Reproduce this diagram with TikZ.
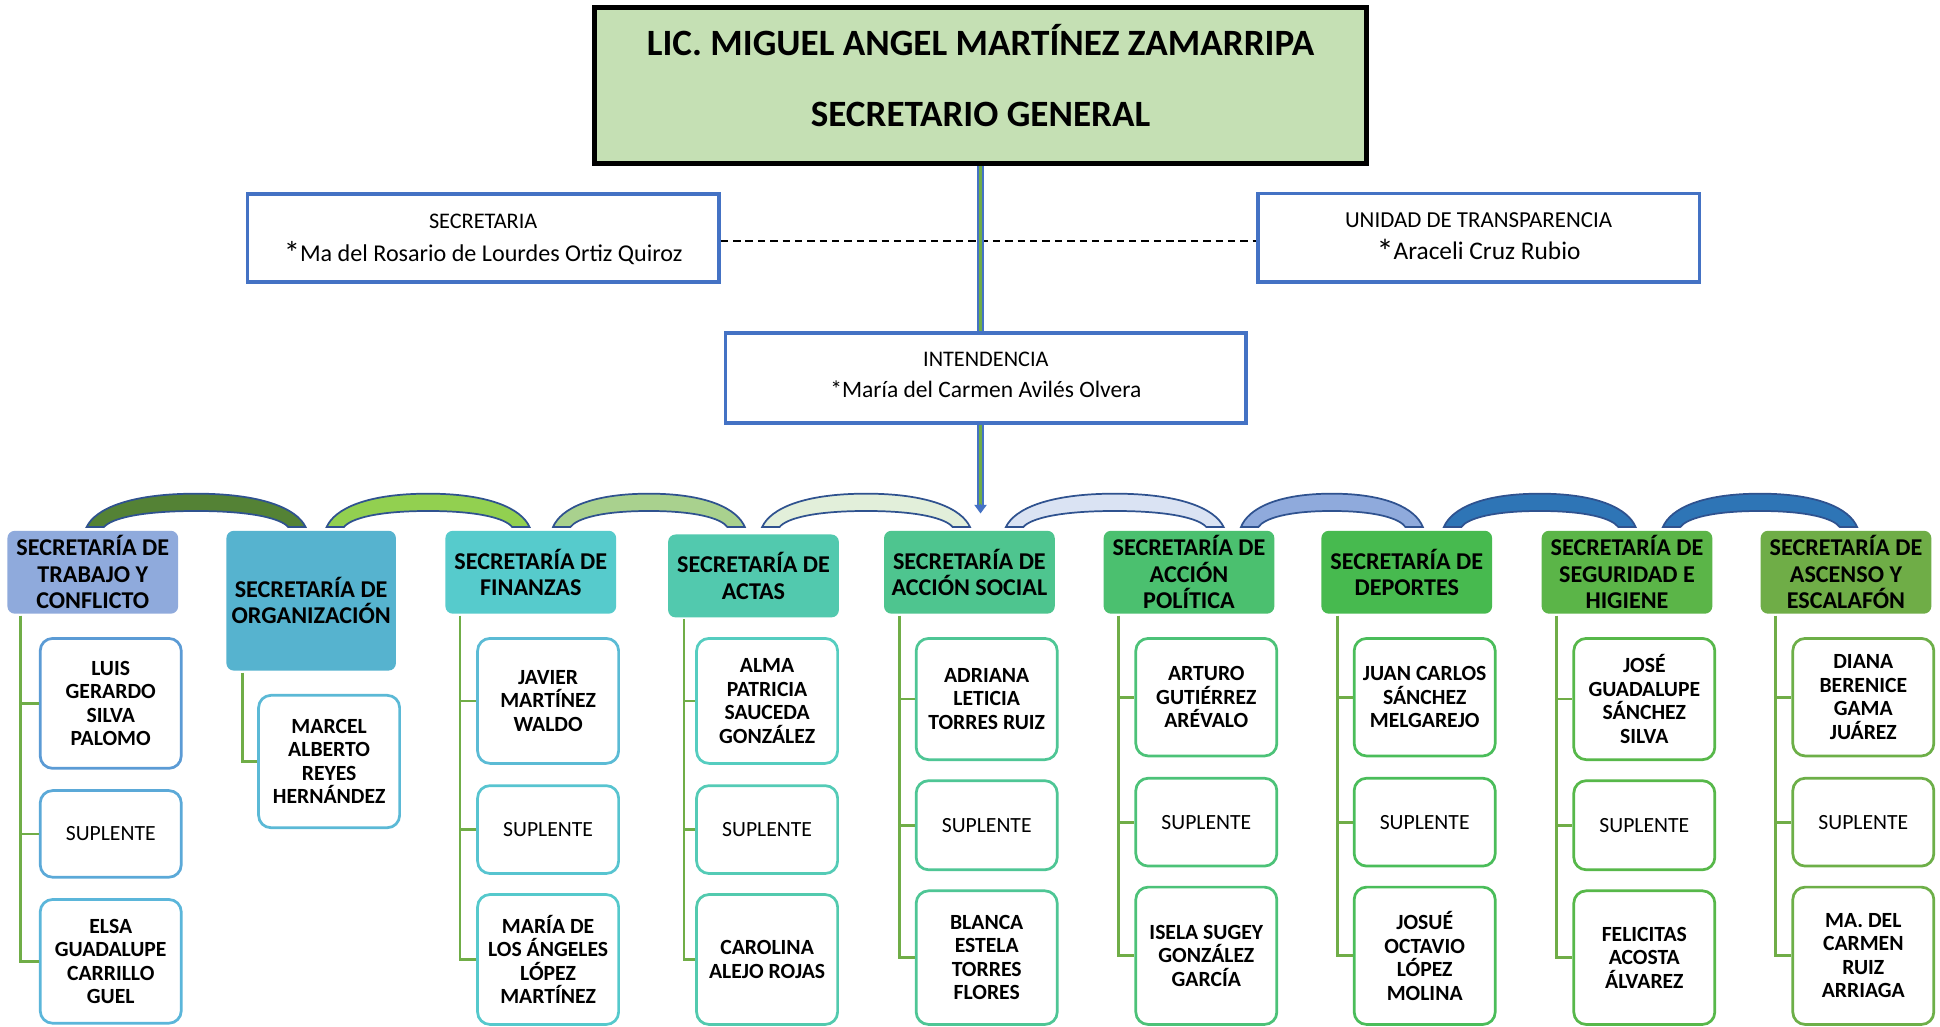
\documentclass[tikz,border=0pt]{standalone}
\usepackage{fontspec}
\setmainfont{Carlito}
\usetikzlibrary{arrows.meta}
\definecolor{topgreen}{HTML}{C5E0B4}
\definecolor{blueF}{HTML}{4472C4}
\definecolor{greenF}{HTML}{70AD47}
\definecolor{arcline}{HTML}{2F528F}
\definecolor{hA}{HTML}{8FAADC}
\definecolor{hB}{HTML}{56B3CF}
\definecolor{hC}{HTML}{56CBCC}
\definecolor{hD}{HTML}{52C9AE}
\definecolor{hE}{HTML}{4EC58F}
\definecolor{hF}{HTML}{4BC06F}
\definecolor{hG}{HTML}{47BA4F}
\definecolor{hH}{HTML}{5BB548}
\definecolor{hI}{HTML}{6FAD47}
\definecolor{bAa}{HTML}{5B9BD5}
\definecolor{bAb}{HTML}{5BA9D8}
\definecolor{bAc}{HTML}{5BB6DA}
\definecolor{bB}{HTML}{5BB9D6}
\definecolor{bCa}{HTML}{5BBBD5}
\definecolor{bCb}{HTML}{57C4D0}
\definecolor{bCc}{HTML}{55C9CC}
\definecolor{bDa}{HTML}{55CDC0}
\definecolor{bDb}{HTML}{54CBB6}
\definecolor{bDc}{HTML}{52CAAE}
\definecolor{bE}{HTML}{4EC695}
\definecolor{bF}{HTML}{4CC278}
\definecolor{bG}{HTML}{4ABD5A}
\definecolor{bH}{HTML}{57B84A}
\definecolor{bI}{HTML}{6DAF48}
\definecolor{aA}{HTML}{548235}
\definecolor{aB}{HTML}{92D050}
\definecolor{aC}{HTML}{A9D18E}
\definecolor{aD}{HTML}{E2EFDA}
\definecolor{aE}{HTML}{DAE3F3}
\definecolor{aF}{HTML}{8FAADC}
\definecolor{aG}{HTML}{2E75B6}
\newcommand\TopFont{\bfseries\fontsize{30bp}{32bp}\selectfont}
\newcommand\HdrFont{\bfseries\fontsize{19.5bp}{21.3bp}\selectfont}
\newcommand\MemFont{\bfseries\fontsize{17.5bp}{19bp}\selectfont}
\newcommand\SupFont{\fontsize{17.5bp}{19bp}\selectfont}
\newcommand\BigAst{\raisebox{-0.14em}{\scalebox{1.35}{*}}}
\newcommand\bandarc[3]{%
 \pgfmathsetmacro\BAx{#1}\pgfmathsetmacro\BBx{#2}%
 \pgfmathsetmacro\BAw{#2-#1}\pgfmathsetmacro\BAm{(#1+#2)/2}%
 \pgfmathsetmacro\BIw{\BAw-28}%
 \filldraw[fill=#3, draw=arcline, line width=1.4bp]
 (\BAx,426) .. controls ({\BAx+0.04*\BAw},411) and ({\BAm-0.3*\BAw},399) .. (\BAm,399)
 .. controls ({\BAm+0.3*\BAw},399) and ({\BBx-0.04*\BAw},411) .. (\BBx,426)
 -- ({\BBx-14},426) .. controls ({\BBx-14-0.04*\BIw},419) and ({\BAm+0.3*\BIw},413) .. (\BAm,413)
 .. controls ({\BAm-0.3*\BIw},413) and ({\BAx+14+0.04*\BIw},419) .. ({\BAx+14},426) -- cycle;}
\begin{document}
\begin{tikzpicture}[x=1bp,y=-1bp,
  hdr/.style={rounded corners=6bp, inner sep=0pt, minimum width=138bp, minimum height=67bp, align=center, font=\HdrFont},
  mem/.style={draw, fill=white, rounded corners=10bp, line width=2.2bp, minimum width=114bp, inner sep=0pt, align=center, font=\MemFont},
  sup/.style={mem, font=\SupFont},
  conn/.style={draw=greenF, line width=2.2bp},
  sidebox/.style={draw=blueF, line width=3bp, inner sep=0pt},
  dbl/.style={draw=blueF, line width=1.6bp, double=greenF, double distance=1.8bp}]
\useasboundingbox (0,0) rectangle (1568,830);
\fill[white] (0,0) rectangle (1568,830);

% top
\node[draw=black, line width=4.5bp, fill=topgreen, minimum width=624bp, minimum height=126bp, inner sep=0pt] (top) at (792.5,69) {};
\node[anchor=base, font=\TopFont] (topname) at (792.5,44.5) {LIC. MIGUEL ANGEL MARTÍNEZ ZAMARRIPA};
\node[anchor=base, font=\TopFont] (toprole) at (792.5,102) {SECRETARIO GENERAL};

% side boxes
\node[sidebox, minimum width=381bp, minimum height=71bp] (sec) at (390.5,192.4) {};
\node[anchor=base, font=\fontsize{18bp}{20bp}\selectfont] (sect) at (390.5,185) {SECRETARIA};
\node[anchor=base, font=\fontsize{19.5bp}{21bp}\selectfont] (secn) at (390.5,211) {\BigAst Ma del Rosario de Lourdes Ortiz Quiroz};
\node[sidebox, minimum width=357bp, minimum height=71.4bp] (unid) at (1195,192) {};
\node[anchor=base, font=\fontsize{18.5bp}{20bp}\selectfont] (unidt) at (1195,183.5) {UNIDAD DE TRANSPARENCIA};
\node[anchor=base, font=\fontsize{20.5bp}{22bp}\selectfont] (unidn) at (1195,210) {\BigAst Araceli Cruz Rubio};
\node[sidebox, minimum width=420.7bp, minimum height=72.7bp] (intend) at (796.8,305.3) {};
\node[anchor=base, font=\fontsize{18bp}{20bp}\selectfont] (intendt) at (796.8,296.5) {INTENDENCIA};
\node[anchor=base, font=\fontsize{19bp}{21bp}\selectfont] (intendn) at (796.8,321) {*María del Carmen Avilés Olvera};

% connectors at top
\draw[black, line width=1.5bp, dash pattern=on 6bp off 4bp] ([yshift=-2.2bp]sec.east) -- ([yshift=-2.2bp]sec.east -| unid.west);
\coordinate (tip) at (792.5,415);
\draw[dbl] (top.south) -- (top.south |- intend.north);
\draw[dbl] (top.south |- intend.south) -- (792.5,408);
\draw[blueF, line width=1bp, -{Triangle[width=10bp,length=7bp]}] (792.5,407) -- (tip);

% arcs
\bandarc{70}{247}{aA}
\bandarc{264}{428}{aB}
\bandarc{447}{602}{aC}
\bandarc{616}{784}{aD}
\bandarc{813}{989}{aE}
\bandarc{1003}{1150}{aF}
\bandarc{1167}{1322}{aG}
\bandarc{1344}{1501}{aG}

% headers
\node[hdr, fill=hA] (h1) at (75,462.5) {SECRETARÍA DE\\TRABAJO Y\\CONFLICTO};
\node[hdr, fill=hB, minimum width=137bp, minimum height=113bp] (h2) at (251.5,485.5) {SECRETARÍA DE\\ORGANIZACIÓN};
\node[hdr, fill=hC] (h3) at (429,462.5) {SECRETARÍA DE\\FINANZAS};
\node[hdr, fill=hD] (h4) at (609,465.5) {SECRETARÍA DE\\ACTAS};
\node[hdr, fill=hE] (h5) at (783.5,462.5) {SECRETARÍA DE\\ACCIÓN SOCIAL};
\node[hdr, fill=hF] (h6) at (961,462.5) {SECRETARÍA DE\\ACCIÓN\\POLÍTICA};
\node[hdr, fill=hG] (h7) at (1137,462.5) {SECRETARÍA DE\\DEPORTES};
\node[hdr, fill=hH] (h8) at (1315,462.5) {SECRETARÍA DE\\SEGURIDAD E\\HIGIENE};
\node[hdr, fill=hI] (h9) at (1492,462.5) {SECRETARÍA DE\\ASCENSO Y\\ESCALAFÓN};

% members
\node[mem, draw=bAa, minimum height=105bp] (m11) at (89.5,568.5) {LUIS\\GERARDO\\SILVA\\PALOMO};
\node[sup, draw=bAb, minimum height=70bp] (m12) at (89.5,674) {SUPLENTE};
\node[mem, draw=bAc, minimum height=100bp] (m13) at (89.5,777) {ELSA\\GUADALUPE\\CARRILLO\\GUEL};

\node[mem, draw=bB, minimum height=107bp] (m21) at (266,615.5) {MARCEL\\ALBERTO\\REYES\\HERNÁNDEZ};

\node[mem, draw=bCa, minimum height=101bp] (m31) at (443,566.5) {JAVIER\\MARTÍNEZ\\WALDO};
\node[sup, draw=bCb, minimum height=71bp] (m32) at (443,670.5) {SUPLENTE};
\node[mem, draw=bCc, minimum height=105bp] (m33) at (443,775.5) {MARÍA DE\\LOS ÁNGELES\\LÓPEZ\\MARTÍNEZ};

\node[mem, draw=bDa, minimum height=101bp] (m41) at (620,566.5) {ALMA\\PATRICIA\\SAUCEDA\\GONZÁLEZ};
\node[sup, draw=bDb, minimum height=71bp] (m42) at (620,670.5) {SUPLENTE};
\node[mem, draw=bDc, minimum height=105bp] (m43) at (620,775.5) {CAROLINA\\ALEJO ROJAS};

\node[mem, draw=bE, minimum height=98bp] (m51) at (797.5,565) {ADRIANA\\LETICIA\\TORRES RUIZ};
\node[sup, draw=bE, minimum height=72bp] (m52) at (797.5,667) {SUPLENTE};
\node[mem, draw=bE, minimum height=108bp] (m53) at (797.5,774) {BLANCA\\ESTELA\\TORRES\\FLORES};

\node[mem, draw=bF, minimum height=95bp] (m61) at (975,563.5) {ARTURO\\GUTIÉRREZ\\ARÉVALO};
\node[sup, draw=bF, minimum height=71bp] (m62) at (975,664.5) {SUPLENTE};
\node[mem, draw=bF, minimum height=111bp] (m63) at (975,772.5) {ISELA SUGEY\\GONZÁLEZ\\GARCÍA};

\node[mem, draw=bG, minimum height=95bp] (m71) at (1151.5,563.5) {JUAN CARLOS\\SÁNCHEZ\\MELGAREJO};
\node[sup, draw=bG, minimum height=71bp] (m72) at (1151.5,664.5) {SUPLENTE};
\node[mem, draw=bG, minimum height=111bp] (m73) at (1151.5,772.5) {JOSUÉ\\OCTAVIO\\LÓPEZ\\MOLINA};

\node[mem, draw=bH, minimum height=98bp] (m81) at (1329,565) {JOSÉ\\GUADALUPE\\SÁNCHEZ\\SILVA};
\node[sup, draw=bH, minimum height=72bp] (m82) at (1329,667) {SUPLENTE};
\node[mem, draw=bH, minimum height=108bp] (m83) at (1329,774) {FELICITAS\\ACOSTA\\ÁLVAREZ};

\node[mem, draw=bI, minimum height=95bp] (m91) at (1506,563.5) {DIANA\\BERENICE\\GAMA\\JUÁREZ};
\node[sup, draw=bI, minimum height=71bp] (m92) at (1506,664.5) {SUPLENTE};
\node[mem, draw=bI, minimum height=111bp] (m93) at (1506,772.5) {MA. DEL\\CARMEN\\RUIZ\\ARRIAGA};

% column connectors
\coordinate (t1) at ([xshift=11bp,yshift=-1.5bp]h1.south west);
\coordinate (t2) at ([xshift=13bp,yshift=-1.5bp]h2.south west);
\coordinate (t3) at ([xshift=12bp,yshift=-1.5bp]h3.south west);
\coordinate (t4) at ([xshift=13bp,yshift=-1.5bp]h4.south west);
\coordinate (t5) at ([xshift=12.5bp,yshift=-1.5bp]h5.south west);
\coordinate (t6) at ([xshift=12bp,yshift=-1.5bp]h6.south west);
\coordinate (t7) at ([xshift=13bp,yshift=-1.5bp]h7.south west);
\coordinate (t8) at ([xshift=12bp,yshift=-1.5bp]h8.south west);
\coordinate (t9) at ([xshift=12bp,yshift=-1.5bp]h9.south west);
\foreach \c in {1,3,4,5,6,7,8,9}{
  \draw[conn] (t\c) |- (m\c3.west);
  \draw[conn] (t\c) |- (m\c1.west);
  \draw[conn] (t\c) |- (m\c2.west);
}
\draw[conn] (t2) |- (m21.west);
\end{tikzpicture}
\end{document}
